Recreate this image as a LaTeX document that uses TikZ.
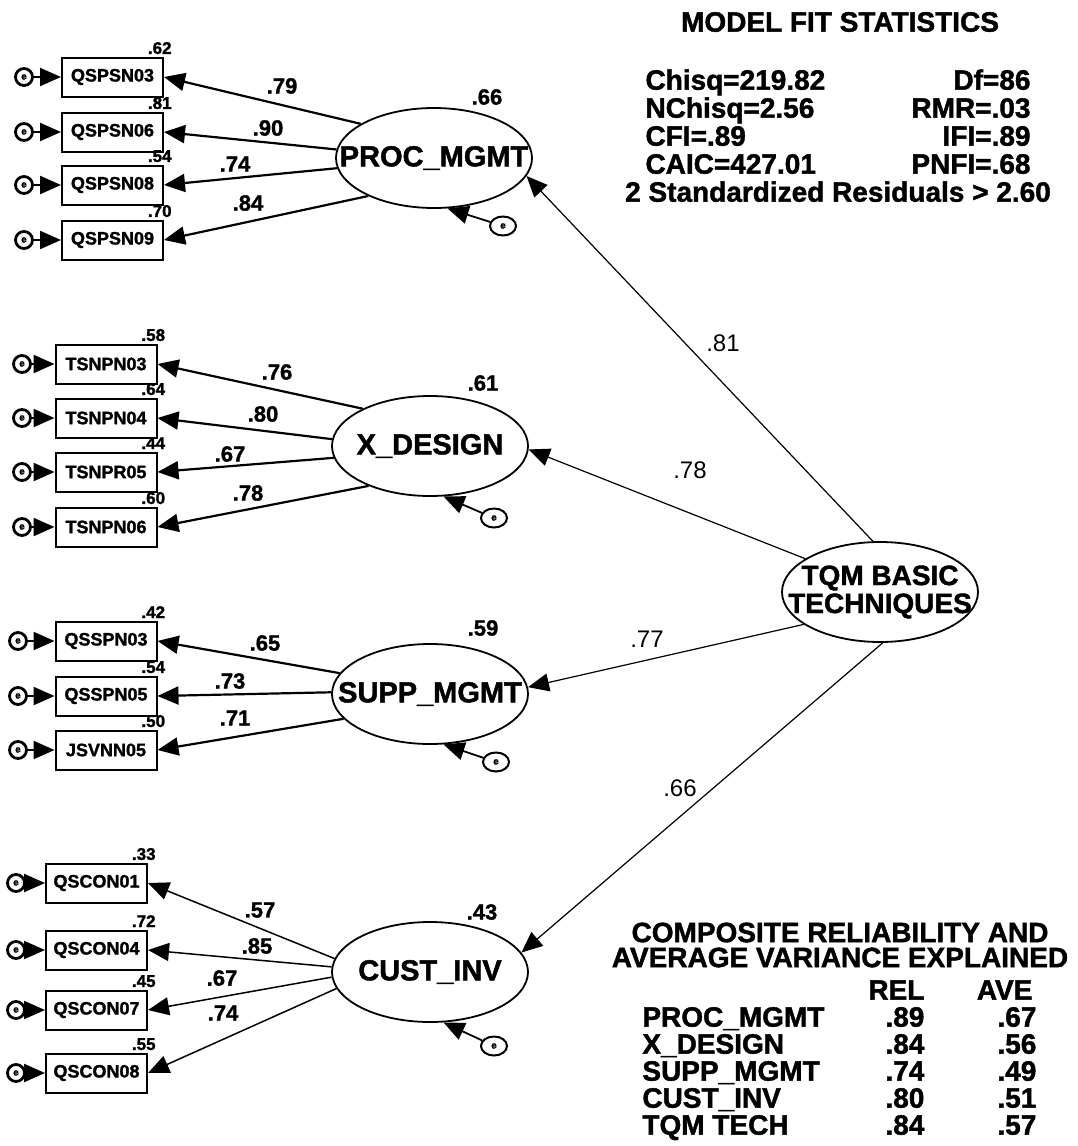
\documentclass[tikz,border=0pt]{standalone}
\usepackage{fontspec}
\setmainfont{Liberation Sans}[BoldFeatures={FakeBold=1.5}]
\usepackage{tikz}
\usetikzlibrary{shapes.geometric,arrows.meta,positioning}

\begin{document}
\begin{tikzpicture}[
  x=0.5pt, y=-0.5pt,
  obs/.style={rectangle, draw, line width=1pt, minimum width=50.5pt,
              minimum height=19.5pt, inner sep=0pt,
              font=\fontsize{9}{9}\selectfont\bfseries},
  lat/.style={ellipse, draw, line width=0.9pt, minimum width=98pt,
              minimum height=50pt, inner sep=0pt, align=center,
              font=\fontsize{14.5}{14}\selectfont\bfseries},
  err/.style={circle, draw, line width=1.4pt, minimum size=8.5pt, inner sep=0pt,
              font=\fontsize{5}{5}\selectfont\bfseries},
  dist/.style={ellipse, draw, line width=1pt, minimum width=13pt,
               minimum height=9.5pt, inner sep=0pt,
               font=\fontsize{5}{5}\selectfont\bfseries},
  rsq/.style={inner sep=0pt, font=\fontsize{8.5}{8.5}\selectfont\bfseries},
  load/.style={inner sep=0pt, font=\fontsize{11}{11}\selectfont\bfseries},
  coef/.style={inner sep=0pt, font=\fontsize{12}{12}\selectfont},
  stat/.style={inner sep=0pt, align=center,
               font=\fontsize{14}{14}\selectfont\bfseries},
  arr/.style={-{Triangle[length=10.5pt,width=9pt]}, line width=1.1pt},
  thinarr/.style={arr, line width=0.75pt},
  struct/.style={arr, line width=0.6pt}]

\path[use as bounding box, fill=white] (0,0) rectangle (1077,1146);

% latent variables
\node[lat] (proc) at (434,158) {\makebox[0pt]{PROC\_MGMT}};
\node[lat] (xdesign) at (430,446) {\makebox[0pt]{X\_DESIGN}};
\node[lat] (supp) at (430,694) {\makebox[0pt]{SUPP\_MGMT}};
\node[lat] (cust) at (430,972) {\makebox[0pt]{CUST\_INV}};
\node[lat, font=\fontsize{14}{14}\selectfont\bfseries] (tqm) at (880,592)
  {\makebox[0pt]{TQM BASIC}\\\makebox[0pt]{TECHNIQUES}};

% indicators of PROC_MGMT
\node[obs] (qspsn03) at (112.5,77) {QSPSN03};
\node[obs] (qspsn06) at (112.5,132) {QSPSN06};
\node[obs] (qspsn08) at (112.5,185) {QSPSN08};
\node[obs] (qspsn09) at (112.5,240) {QSPSN09};

% indicators of X_DESIGN
\node[obs] (tsnpn03) at (106,364) {TSNPN03};
\node[obs] (tsnpn04) at (106,418) {TSNPN04};
\node[obs] (tsnpr05) at (106,472) {TSNPR05};
\node[obs] (tsnpn06) at (106,527) {TSNPN06};

% indicators of SUPP_MGMT
\node[obs] (qsspn03) at (106,641) {QSSPN03};
\node[obs] (qsspn05) at (106,696) {QSSPN05};
\node[obs] (jsvnn05) at (106,750) {JSVNN05};

% indicators of CUST_INV
\node[obs] (qscon01) at (96.5,883) {QSCON01};
\node[obs] (qscon04) at (96.5,950) {QSCON04};
\node[obs] (qscon07) at (96.5,1010) {QSCON07};
\node[obs] (qscon08) at (96.5,1073) {QSCON08};

% error terms
\node[err] (e1) at (24,77) {e};
\node[err] (e2) at (24,132) {e};
\node[err] (e3) at (24,185) {e};
\node[err] (e4) at (24,240) {e};
\node[err] (e5) at (22,364) {e};
\node[err] (e6) at (22,418) {e};
\node[err] (e7) at (22,472) {e};
\node[err] (e8) at (22,527) {e};
\node[err] (e9) at (18,641) {e};
\node[err] (e10) at (18,696) {e};
\node[err] (e11) at (18,750) {e};
\node[err] (e12) at (16,883) {e};
\node[err] (e13) at (16,950) {e};
\node[err] (e14) at (16,1010) {e};
\node[err] (e15) at (16,1073) {e};

\node[dist] (d1) at (503,226) {e};
\node[dist] (d2) at (494,518) {e};
\node[dist] (d3) at (496,762) {e};
\node[dist] (d4) at (494,1046) {e};

% squared multiple correlations
\node[rsq, above left=1pt and -4pt of qspsn03.north east] (r1) {.62};
\node[rsq, above left=1pt and -4pt of qspsn06.north east] (r2) {.81};
\node[rsq, above left=1pt and -4pt of qspsn08.north east] (r3) {.54};
\node[rsq, above left=1pt and -4pt of qspsn09.north east] (r4) {.70};
\node[rsq, above left=1pt and -4pt of tsnpn03.north east] (r5) {.58};
\node[rsq, above left=1pt and -4pt of tsnpn04.north east] (r6) {.64};
\node[rsq, above left=1pt and -4pt of tsnpr05.north east] (r7) {.44};
\node[rsq, above left=1pt and -4pt of tsnpn06.north east] (r8) {.60};
\node[rsq, above left=1pt and -4pt of qsspn03.north east] (r9) {.42};
\node[rsq, above left=1pt and -4pt of qsspn05.north east] (r10) {.54};
\node[rsq, above left=1pt and -4pt of jsvnn05.north east] (r11) {.50};
\node[rsq, above left=1pt and -4pt of qscon01.north east] (r12) {.33};
\node[rsq, above left=1pt and -4pt of qscon04.north east] (r13) {.72};
\node[rsq, above left=1pt and -4pt of qscon07.north east] (r14) {.45};
\node[rsq, above left=1pt and -4pt of qscon08.north east] (r15) {.55};

\node[load] (rproc) at (487,97) {.66};
\node[load] (rxdes) at (483,383) {.61};
\node[load] (rsupp) at (483,628) {.59};
\node[load] (rcust) at (482,912) {.43};

% loadings
\node[load] (l1) at (282,86) {.79};
\node[load] (l2) at (268,128) {.90};
\node[load] (l3) at (235,164) {.74};
\node[load] (l4) at (248,203) {.84};
\node[load] (l5) at (277,372) {.76};
\node[load] (l6) at (263,414) {.80};
\node[load] (l7) at (230,454) {.67};
\node[load] (l8) at (248,493) {.78};
\node[load] (l9) at (265,643) {.65};
\node[load] (l10) at (230,681) {.73};
\node[load] (l11) at (235,718) {.71};
\node[load] (l12) at (260,910) {.57};
\node[load] (l13) at (257,946) {.85};
\node[load] (l14) at (222,978) {.67};
\node[load] (l15) at (223,1013) {.74};

% structural coefficients
\node[coef] (c1) at (723,343) {.81};
\node[coef] (c2) at (690,470) {.78};
\node[coef] (c3) at (647,639) {.77};
\node[coef] (c4) at (680,788) {.66};

% fit statistics
\node[stat] (fittitle) at (840,22) {MODEL FIT STATISTICS};
\node[stat, anchor=north] (fitvals) at (838,69)
  {\makebox[192.5pt]{Chisq=219.82\hfill Df=86}\\
   \makebox[192.5pt]{NChisq=2.56\hfill RMR=.03}\\
   \makebox[192.5pt]{CFI=.89\hfill IFI=.89}\\
   \makebox[192.5pt]{CAIC=427.01\hfill PNFI=.68}\\
   2 Standardized Residuals > 2.60};

% reliability table
\node[stat, font=\fontsize{14}{12.5}\selectfont\bfseries] (reltitle) at (840,945)
  {COMPOSITE RELIABILITY AND\\AVERAGE VARIANCE EXPLAINED};
\node[stat, align=left, anchor=north west,
      font=\fontsize{14}{13.5}\selectfont\bfseries] (reltable) at (642,980)
  {\makebox[100pt]{}\makebox[41pt][r]{REL}\makebox[56pt][r]{AVE\hspace{2pt}}\\
   \makebox[100pt][l]{PROC\_MGMT}\makebox[41pt][r]{.89}\makebox[56pt][r]{.67}\\
   \makebox[100pt][l]{X\_DESIGN}\makebox[41pt][r]{.84}\makebox[56pt][r]{.56}\\
   \makebox[100pt][l]{SUPP\_MGMT}\makebox[41pt][r]{.74}\makebox[56pt][r]{.49}\\
   \makebox[100pt][l]{CUST\_INV}\makebox[41pt][r]{.80}\makebox[56pt][r]{.51}\\
   \makebox[100pt][l]{TQM TECH}\makebox[41pt][r]{.84}\makebox[56pt][r]{.57}};

% errors to indicators
\draw[arr] (e1) -- (qspsn03);
\draw[arr] (e2) -- (qspsn06);
\draw[arr] (e3) -- (qspsn08);
\draw[arr] (e4) -- (qspsn09);
\draw[arr] (e5) -- (tsnpn03);
\draw[arr] (e6) -- (tsnpn04);
\draw[arr] (e7) -- (tsnpr05);
\draw[arr] (e8) -- (tsnpn06);
\draw[arr] (e9) -- (qsspn03);
\draw[arr] (e10) -- (qsspn05);
\draw[arr] (e11) -- (jsvnn05);
\draw[arr] (e12) -- (qscon01);
\draw[arr] (e13) -- (qscon04);
\draw[arr] (e14) -- (qscon07);
\draw[arr] (e15) -- (qscon08);

% latents to indicators
\draw[arr] (proc.155) -- (qspsn03.east);
\draw[arr] (proc.175) -- (qspsn06.east);
\draw[arr] (proc.186) -- (qspsn08.east);
\draw[arr] (proc.210) -- (qspsn09.east);
\draw[arr] (xdesign.151) -- (tsnpn03.east);
\draw[arr] (xdesign.176) -- (tsnpn04.east);
\draw[arr] (xdesign.187) -- (tsnpr05.east);
\draw[arr] (xdesign.213) -- (tsnpn06.east);
\draw[arr] (supp.167) -- (qsspn03.east);
\draw[arr] (supp.179) -- (qsspn05.east);
\draw[arr] (supp.196) -- (jsvnn05.east);
\draw[thinarr] (cust.172) -- (qscon01.east);
\draw[thinarr] (cust.177) -- (qscon04.east);
\draw[thinarr] (cust.183) -- (qscon07.east);
\draw[thinarr] (cust.190) -- (qscon08.east);

% disturbances
\draw[arr, line width=0.9pt] (d1) -- (proc.-75);
\draw[arr, line width=0.9pt] (d2) -- (xdesign.-75);
\draw[arr, line width=0.9pt] (d3) -- (supp.-75);
\draw[arr, line width=0.9pt] (d4) -- (cust.-75);

% second order paths
\draw[struct] (tqm.98) -- (proc.-11);
\draw[struct] (tqm.156) -- (xdesign.-2);
\draw[struct] (tqm.203) -- (supp.4);
\draw[struct] (tqm.273) -- (cust.12);
\end{tikzpicture}
\end{document}
